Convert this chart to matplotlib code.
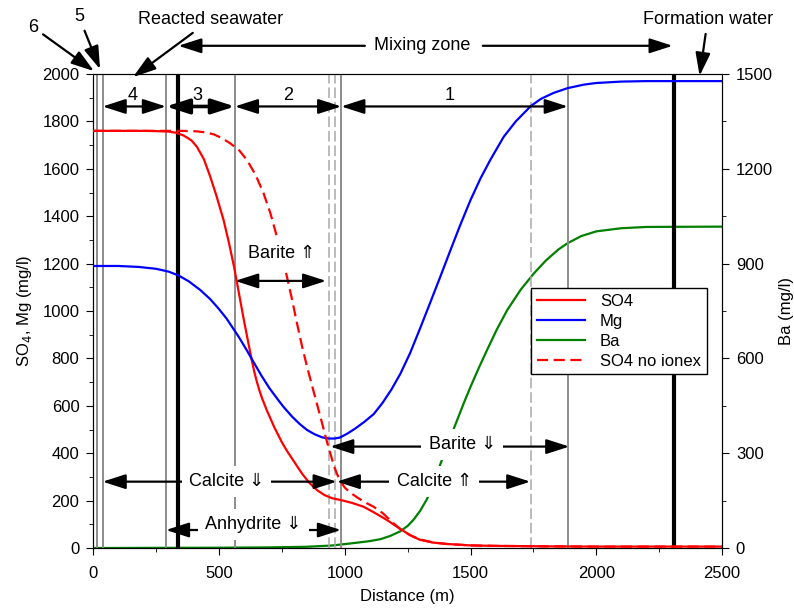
import matplotlib
matplotlib.use('Agg')
import matplotlib.pyplot as plt
from matplotlib.ticker import MultipleLocator

plt.rcParams['font.family'] = ['Liberation Sans', 'DejaVu Sans']

# curves
so4_x = [0, 100, 200, 250, 300, 330, 360, 390, 412, 440, 465, 490, 518, 540, 560, 580, 600, 630, 640,
         650, 660, 670, 690, 720, 750, 770, 800, 830, 860, 890, 920, 950, 990, 1030, 1075, 1120, 1168,
         1210, 1248, 1275, 1301, 1350, 1407, 1500, 1600, 1800, 2000, 2500]
so4_y = [1760, 1760, 1760, 1759, 1757, 1752, 1740, 1720, 1693, 1640, 1567, 1485, 1384, 1285, 1185, 1070,
         955, 793, 745, 703, 667, 635, 581, 509, 446, 410, 362, 314, 274, 244, 223, 210, 201, 190, 174,
         148, 118, 88, 62, 46, 34, 23, 17, 11, 9, 7, 6, 6]

so4n_x = [0, 200, 300, 350, 412, 450, 480, 510, 544, 580, 611, 645, 677, 705, 730, 750, 770, 790, 810,
          830, 850, 875, 903, 930, 956, 970, 985, 1000, 1020, 1050, 1080, 1115, 1150, 1190, 1221, 1260,
          1301, 1350, 1407, 1500, 1600, 1800, 2000, 2500]
so4n_y = [1760, 1760, 1760, 1760, 1758, 1753, 1745, 1730, 1708, 1678, 1637, 1575, 1497, 1410, 1314, 1232,
          1145, 1050, 948, 852, 765, 665, 554, 445, 350, 310, 278, 255, 235, 213, 193, 174, 148, 108, 80,
          54, 36, 24, 17, 11, 9, 7, 6, 6]

mg_x = [0, 100, 180, 250, 300, 339, 380, 425, 465, 500, 530, 557, 580, 610, 637, 670, 700, 730, 756,
        790, 820, 850, 880, 910, 936, 960, 980, 1009, 1040, 1075, 1115, 1150, 1185, 1221, 1260, 1300,
        1340, 1380, 1420, 1460, 1500, 1540, 1580, 1632, 1680, 1740, 1780, 1830, 1885, 1950, 2000, 2100,
        2200, 2500]
mg_y = [1190, 1190, 1186, 1178, 1166, 1150, 1125, 1089, 1050, 1008, 968, 925, 888, 835, 785, 725, 675,
        632, 596, 555, 524, 498, 480, 467, 462, 462, 466, 482, 503, 530, 565, 612, 668, 735, 823, 928,
        1036, 1145, 1256, 1365, 1468, 1560, 1640, 1735, 1800, 1865, 1895, 1920, 1940, 1955, 1962, 1968,
        1970, 1970]

ba_x = [0, 500, 700, 850, 950, 995, 1050, 1100, 1142, 1180, 1221, 1250, 1273, 1300, 1327, 1355, 1380,
        1415, 1447, 1475, 1500, 1533, 1566, 1605, 1646, 1700, 1752, 1800, 1850, 1885, 1940, 2000, 2100,
        2200, 2500]
ba_y = [0, 1, 2, 4, 8, 12, 17, 22, 28, 38, 53, 70, 89, 118, 155, 208, 265, 340, 405, 462, 510, 570, 627,
        692, 753, 818, 869, 910, 945, 964, 987, 1002, 1012, 1016, 1017]

# front positions (m)
grey_solid = [13, 37, 289, 563, 986, 1887]
grey_dashed = [936, 960, 1740]
thick_black = [338, 2308]

fig = plt.figure(figsize=(7.94, 6.10), dpi=100)
ax = fig.add_axes([0.1175, 0.1016, 0.7918, 0.7771])
ax2 = ax.twinx()
ax.set_zorder(2)
ax2.set_zorder(1)
ax.patch.set_visible(False)

for x in grey_solid:
    ax.axvline(x, color='#8c8c8c', lw=1.4, zorder=1)
for x in grey_dashed:
    ax.axvline(x, color='#a8a8a8', lw=1.1, ls=(0, (7, 2.5)), zorder=1)
for x in thick_black:
    ax.axvline(x, color='black', lw=3, zorder=1.5)

l1, = ax.plot(so4_x, so4_y, color='#ff0000', lw=1.6, label='SO4', zorder=3)
l2, = ax.plot(mg_x, mg_y, color='#0000ff', lw=1.6, label='Mg', zorder=3)
l4, = ax.plot(so4n_x, so4n_y, color='#ff0000', lw=1.6, dashes=(5, 2.5), label='SO4 no ionex', zorder=3)
l3, = ax2.plot(ba_x, ba_y, color='#008000', lw=1.6, label='Ba')

ax.set_xlim(0, 2500)
ax.set_ylim(0, 2000)
ax2.set_ylim(0, 1500)
ax.xaxis.set_major_locator(MultipleLocator(500))
ax.xaxis.set_minor_locator(MultipleLocator(250))
ax.yaxis.set_major_locator(MultipleLocator(200))
ax.yaxis.set_minor_locator(MultipleLocator(100))
ax2.yaxis.set_major_locator(MultipleLocator(300))
ax2.yaxis.set_minor_locator(MultipleLocator(150))
ax.tick_params(which='both', direction='out', labelsize=12)
ax.tick_params(axis='x', which='major', length=5, pad=8)
ax.tick_params(axis='y', which='major', length=5, pad=5)
ax.tick_params(which='minor', length=3)
ax2.tick_params(which='both', direction='out', labelsize=12)
ax2.tick_params(which='major', length=5, pad=5)
ax2.tick_params(which='minor', length=3)

ax.set_xlabel('Distance (m)', fontsize=12, labelpad=6)
ax.set_ylabel('SO$_4$, Mg (mg/l)', fontsize=12, labelpad=6)
ax2.set_ylabel('Ba (mg/l)', fontsize=12, labelpad=4)

ax.legend([l1, l2, l3, l4], ['SO4', 'Mg', 'Ba', 'SO4 no ionex'], loc='upper left',
          bbox_to_anchor=(0.696, 0.549), borderaxespad=0, fontsize=12, frameon=True,
          fancybox=False, framealpha=1, edgecolor='black', handlelength=2.9,
          handletextpad=0.9, labelspacing=0.3, borderpad=0.35).get_frame().set_linewidth(1)

head = '-|>,head_length=1.4,head_width=0.45'
both = '<|-|>,head_length=1.4,head_width=0.45'


def span(x0, x1, y, lw=1.6):
    ax.annotate('', xy=(x1, y), xytext=(x0, y), annotation_clip=False,
                arrowprops=dict(arrowstyle=both, mutation_scale=10, lw=lw, color='black',
                                shrinkA=0, shrinkB=0), zorder=5)


def boxed(x, y, s):
    ax.text(x, y, s, ha='center', va='center', fontsize=13, zorder=6,
            bbox=dict(boxstyle='square,pad=0.4', fc='white', ec='none'))


# zone arrows along the top
span(37, 289, 1863)
span(289, 563, 1863, lw=2.6)
span(563, 986, 1863)
span(986, 1887, 1863)
for x, s in zip([158, 412, 774, 1417], ['4', '3', '2', '1']):
    ax.text(x, 1911, s, ha='center', va='center', fontsize=13, zorder=6)

# mineral fronts
span(564, 926, 1127)
boxed(750, 1243, 'Barite \u21d1')
span(942, 1893, 428)
boxed(1467, 436, 'Barite \u21d3')
span(37, 968, 280)
boxed(530, 280, 'Calcite \u21d3')
span(968, 1738, 280)
boxed(1356, 280, 'Calcite \u21d1')
span(289, 985, 76)
boxed(637, 100, 'Anhydrite \u21d3')

# labels above the plot
def pointer(s, xy, xytext):
    ax.annotate(s, xy=xy, xytext=xytext, ha='center', va='center', fontsize=13,
                annotation_clip=False,
                arrowprops=dict(arrowstyle=head, mutation_scale=10, lw=1.6, color='black',
                                shrinkA=2, shrinkB=0))


pointer('6', (3, 2012), (-240, 2198))
pointer('5', (27, 2020), (-57, 2241))
pointer('Reacted seawater', (158, 1987), (465, 2228))
pointer('Formation water', (2411, 1992), (2443, 2228))

ax.annotate('', xy=(338, 2119), xytext=(1080, 2119), annotation_clip=False,
            arrowprops=dict(arrowstyle=head, mutation_scale=10, lw=1.6, color='black',
                            shrinkA=0, shrinkB=0))
ax.annotate('', xy=(2304, 2119), xytext=(1549, 2119), annotation_clip=False,
            arrowprops=dict(arrowstyle=head, mutation_scale=10, lw=1.6, color='black',
                            shrinkA=0, shrinkB=0))
ax.text(1307, 2119, 'Mixing zone', ha='center', va='center', fontsize=13)

fig.savefig('out.png', dpi=100)
